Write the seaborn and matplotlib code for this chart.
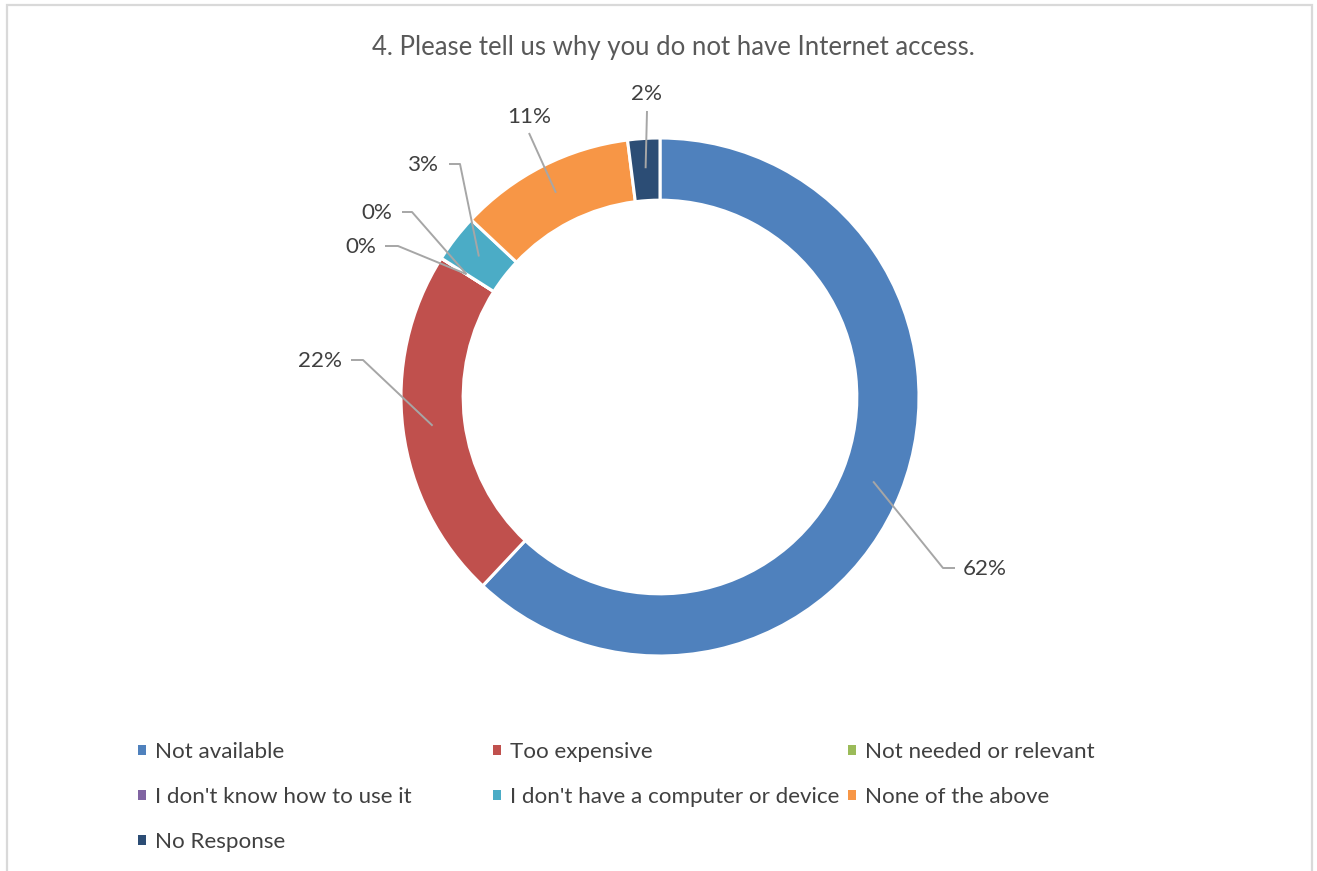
import matplotlib
matplotlib.use("Agg")
import matplotlib.pyplot as plt
from matplotlib.patches import Patch, Rectangle
import numpy as np
import seaborn as sns

# Survey answers (share of respondents, %)
categories = [
    "Not available",
    "Too expensive",
    "Not needed or relevant",
    "I don't know how to use it",
    "I don't have a computer or device",
    "None of the above",
    "No Response",
]
shares = [62, 22, 0, 0, 3, 11, 2]
colors = ["#4F81BD", "#C0504D", "#9BBB59", "#8064A2", "#4BACC6", "#F79646", "#2C4D75"]
title = "4. Please tell us why you do not have Internet access."

sns.set_theme(style="white")
plt.rcParams["font.family"] = ["Lato", "DejaVu Sans"]

W, H = 1317, 871
fig = plt.figure(figsize=(W / 100, H / 100), dpi=100)
fig.patch.set_facecolor("white")

# light chart-area outline
fig.add_artist(Rectangle((6.5 / W, -0.05), (1312 - 6.5) / W, 1.05 - 5.5 / H,
                         transform=fig.transFigure, fill=False,
                         edgecolor="#D9D9D9", linewidth=1.6))

# donut axes, in pixel layout
cx, cy, R = 660, 397, 259
ax = fig.add_axes([(cx - R) / W, (H - cy - R) / H, 2 * R / W, 2 * R / H])

palette = sns.color_palette(colors)
wedges, _ = ax.pie(shares, colors=palette, startangle=90, counterclock=False,
                   radius=1, normalize=True,
                   wedgeprops=dict(width=0.24, edgecolor="white", linewidth=2.2))
ax.set_xlim(-1, 1)
ax.set_ylim(-1, 1)
ax.set_aspect("equal")
ax.axis("off")


def to_data(px, py):
    return (px - cx) / R, (cy - py) / R


# label placement: text position (px), alignment, leader points (px) after the anchor
label_layout = [
    ((963, 569), "left", [(943, 568), (955, 568)]),
    ((342, 361), "right", [(363, 360), (351, 360)]),
    ((376, 247), "right", [(398, 246), (385, 246)]),
    ((392, 213), "right", [(412, 212), (402, 212)]),
    ((439, 165), "right", [(460, 164), (449, 164)]),
    ((529, 117), "center", [(529, 133)]),
    ((647, 94), "center", [(647, 111)]),
]

text_color = "#404040"
line_color = "#A6A6A6"
lab_fs = 16.1

for w, v, ((tx, ty), ha, pts) in zip(wedges, shares, label_layout):
    mid = np.deg2rad((w.theta1 + w.theta2) / 2)
    r_anchor = 0.885
    xs = [r_anchor * np.cos(mid)]
    ys = [r_anchor * np.sin(mid)]
    for p in pts:
        dx, dy = to_data(*p)
        xs.append(dx)
        ys.append(dy)
    ax.plot(xs, ys, color=line_color, linewidth=1.4, solid_capstyle="butt", clip_on=False)
    lx, ly = to_data(tx, ty)
    ax.text(lx, ly, f"{v}%", ha=ha, va="center", fontsize=lab_fs,
            color=text_color, clip_on=False)

fig.text(673 / W, 1 - 48 / H, title, ha="center", va="center",
         fontsize=18.5, color="#595959")

# legend: three columns, filled row by row
handles = [Patch(facecolor=c, edgecolor="none") for c in palette]
col_x = [138, 493, 848]
for ci, x0 in enumerate(col_x):
    idx = list(range(ci, len(categories), 3))
    leg = fig.legend([handles[i] for i in idx], [categories[i] for i in idx],
                     loc="upper left", bbox_to_anchor=(x0 / W, 1 - 742 / H),
                     frameon=False, fontsize=lab_fs, labelcolor=text_color,
                     handlelength=0.36, handleheight=0.36, handletextpad=0.42,
                     labelspacing=1.12, borderpad=0, borderaxespad=0)

fig.savefig("out.png", dpi=100, facecolor="white")
